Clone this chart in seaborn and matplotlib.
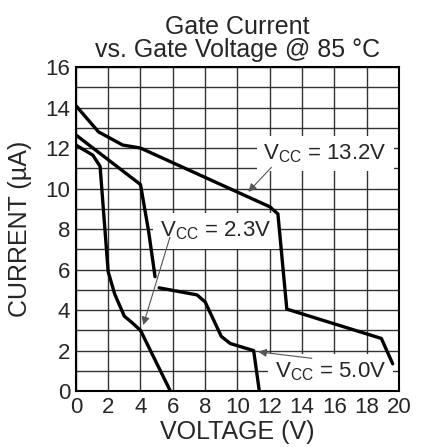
import seaborn as sns
import matplotlib.pyplot as plt

# Vcc = 13.2V
x13 = [0, 1.4, 2.9, 4.0, 12.0, 12.5, 13.05, 18.9, 19.6]
y13 = [14.1, 12.8, 12.15, 12.0, 9.1, 8.75, 4.05, 2.6, 1.35]

# Vcc = 2.3V
x23 = [0, 1.05, 1.5, 2.0, 2.4, 3.0, 3.45, 4.0, 5.85]
y23 = [12.15, 11.65, 11.1, 5.9, 4.8, 3.7, 3.4, 3.0, 0]

# Vcc = 5.0V (drawn in two pieces, gap near 5 V)
x50a = [0, 4.0, 4.5, 4.9]
y50a = [12.65, 10.2, 7.9, 5.65]
x50b = [5.15, 7.5, 8.0, 9.0, 9.55, 11.0, 11.35]
y50b = [5.1, 4.75, 4.4, 2.7, 2.35, 2.0, 0]

xticks = list(range(0, 21, 2))
yticks = list(range(0, 17, 2))

sns.set_style('white')
plt.rcParams['font.family'] = ['Liberation Sans', 'DejaVu Sans']
plt.rcParams['mathtext.fontset'] = 'custom'
plt.rcParams['mathtext.rm'] = 'Liberation Sans'

fig = plt.figure(figsize=(4.26, 4.47), dpi=100)
ax = fig.add_axes([0.178, 0.125, 0.759, 0.725])

for xs, ys in [(x13, y13), (x23, y23), (x50a, y50a), (x50b, y50b)]:
    sns.lineplot(x=xs, y=ys, ax=ax, color='black', lw=2.4, sort=False,
                 estimator=None, zorder=3)

ax.set_xlim(0, 20)
ax.set_ylim(0, 16)
ax.set_xticks(xticks)
ax.set_yticks(yticks)
ax.set_yticks(range(0, 17), minor=True)
ax.tick_params(axis='both', which='both', length=0, labelsize=16, pad=4)
ax.grid(True, which='major', axis='x', color='#333333', lw=1)
ax.grid(True, which='both', axis='y', color='#333333', lw=1)
ax.set_axisbelow(True)
for s in ax.spines.values():
    s.set_color('black')
    s.set_linewidth(1.5)

ax.set_xlabel('VOLTAGE (V)', fontsize=18, labelpad=2)
ax.set_ylabel('CURRENT (µA)', fontsize=18, labelpad=10)
ax.set_title('Gate Current\nvs. Gate Voltage @ 85 °C', fontsize=18,
             linespacing=0.95, pad=7)

box = dict(boxstyle='square,pad=0.3', fc='white', ec='none')
arr = dict(arrowstyle='-|>', color='#555555', lw=0.8, mutation_scale=12,
           shrinkA=0, shrinkB=0)

ax.text(11.6, 11.45, r'$\mathregular{V_{CC}}$ = 13.2V', fontsize=16,
        va='baseline', bbox=box, zorder=2)
ax.annotate('', xy=(10.67, 9.84), xytext=(12.1, 11.05), arrowprops=arr,
            zorder=4)

ax.text(5.2, 7.62, r'$\mathregular{V_{CC}}$ = 2.3V', fontsize=16,
        va='baseline', bbox=box, zorder=2)
ax.annotate('', xy=(4.17, 3.26), xytext=(5.82, 7.6), arrowprops=arr,
            zorder=4)

ax.text(12.3, 0.68, r'$\mathregular{V_{CC}}$ = 5.0V', fontsize=16,
        va='baseline', bbox=box, zorder=2)
ax.annotate('', xy=(11.29, 1.94), xytext=(14.6, 1.62), arrowprops=arr,
            zorder=4)

fig.savefig('out.png', dpi=100)
